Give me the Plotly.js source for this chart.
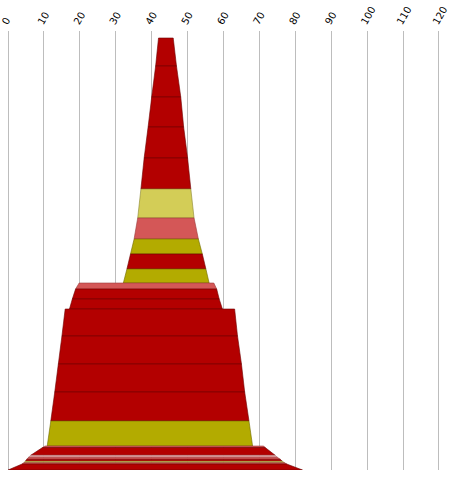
<!DOCTYPE html>
<html>
<head>
<meta charset="utf-8">
<script src="https://cdn.plot.ly/plotly-3.0.1.min.js"></script>
<style>html,body{margin:0;padding:0;background:#fff;}#chart{width:452px;height:477px;}</style>
</head>
<body>
<div id="chart"></div>
<script>
// Each band: depth at its top and bottom, and left/right values (x units) at those depths.
var bandKinds  = ['red','red','red','red','red','yellow','salmon','olive','red','olive',
                  'salmon','red','red','red','red','red','red','olive',
                  'salmon','red','pink','salmon','red','yellow','salmon','red'];
var depthTop   = [7, 35, 66, 96, 127, 158, 187, 208, 223, 238,
                  252, 258, 268, 278, 305, 333, 361, 390,
                  415, 416.5, 424.3, 426.3, 428.3, 430.3, 431.7, 433];
var depthBot   = [35, 66, 96, 127, 158, 187, 208, 223, 238, 252,
                  258, 268, 278, 305, 333, 361, 390, 415,
                  416.5, 424.3, 426.3, 428.3, 430.3, 431.7, 433, 439];
var leftTop    = [41.9, 41.1, 40.0, 39.0, 37.9, 37.0, 36.1, 35.1, 34.1, 33.1,
                  19.8, 18.8, 17.9, 15.9, 15.0, 14.0, 13.0, 11.9,
                  10.3, 9.6, 6.3, 5.7, 5.2, 4.8, 4.4, 3.9];
var rightTop   = [46.0, 46.9, 48.1, 48.9, 50.0, 50.9, 51.8, 53.0, 54.1, 55.1,
                  57.3, 58.1, 58.8, 63.1, 63.9, 65.0, 65.9, 67.1,
                  71.2, 71.6, 74.4, 75.0, 75.8, 76.4, 77.0, 77.6];
var leftBot    = [41.1, 40.0, 39.0, 37.9, 37.0, 36.1, 35.1, 34.1, 33.1, 32.1,
                  18.8, 17.9, 17.1, 15.0, 14.0, 13.0, 11.9, 10.9,
                  9.6, 6.3, 5.7, 5.2, 4.8, 4.4, 3.9, 0.0];
var rightBot   = [46.9, 48.1, 48.9, 50.0, 50.9, 51.8, 53.0, 54.1, 55.1, 56.0,
                  58.1, 58.8, 59.7, 63.9, 65.0, 65.9, 67.1, 68.1,
                  71.6, 74.4, 75.0, 75.8, 76.4, 77.0, 77.6, 82.0];
var xTicks = [0, 10, 20, 30, 40, 50, 60, 70, 80, 90, 100, 110, 120];

var fills = {red:'#b30000', yellow:'#d3cd57', salmon:'#d45757', olive:'#b3ab00', pink:'#e6a3a3'};
var edges = {red:'#6e0000', yellow:'#8a8530', salmon:'#9a3a3a', olive:'#6e6a00', pink:'#b07a7a'};

var traces = bandKinds.map(function(k, i){
  return {
    type:'scatter', mode:'lines', fill:'toself',
    x:[leftTop[i], rightTop[i], rightBot[i], leftBot[i], leftTop[i]],
    y:[depthTop[i], depthTop[i], depthBot[i], depthBot[i], depthTop[i]],
    fillcolor: fills[k],
    line:{color: edges[k], width:0.6},
    hoverinfo:'skip', showlegend:false
  };
});

var layout = {
  width:452, height:477,
  margin:{l:7, r:12, t:31, b:7, pad:0},
  paper_bgcolor:'#ffffff', plot_bgcolor:'#ffffff',
  showlegend:false,
  font:{family:'DejaVu Sans, Verdana, sans-serif', size:10, color:'#000'},
  xaxis:{
    side:'top', range:[-0.3,120.3], tickvals:xTicks, ticktext:xTicks.map(String),
    tickangle:-60, showgrid:true, gridcolor:'#bdbdbd', gridwidth:1,
    zeroline:false, showline:false, ticks:'', fixedrange:true,
    ticklabeloverflow:'allow', ticklabelshift:-5,
    tickfont:{family:'DejaVu Sans, Verdana, sans-serif', size:10, color:'#000'}
  },
  yaxis:{
    range:[439,0], showgrid:false, zeroline:false, showline:false,
    showticklabels:false, ticks:'', fixedrange:true
  }
};

Plotly.newPlot('chart', traces, layout, {staticPlot:true, displayModeBar:false});
</script>
</body>
</html>
